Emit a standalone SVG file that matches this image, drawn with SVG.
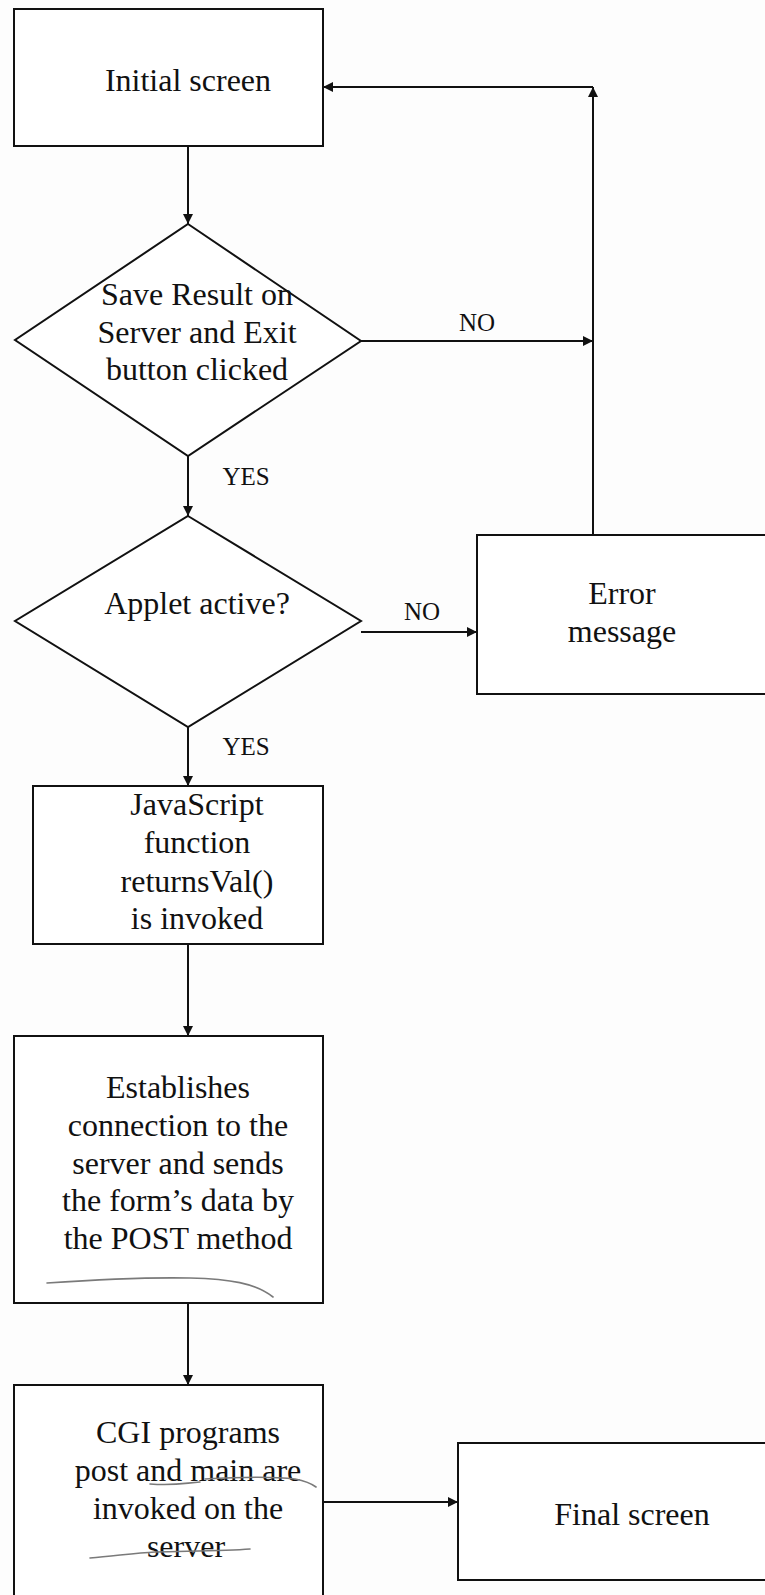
<svg xmlns="http://www.w3.org/2000/svg" width="765" height="1595" viewBox="0 0 765 1595">
  <style>
    .shape { fill: #ffffff; stroke: #111111; stroke-width: 2; }
    .conn { fill: none; stroke: #111111; stroke-width: 2; }
    .pencil { fill: none; stroke: #7a7a7a; stroke-width: 1.6; stroke-linecap: round; }
    .t { font-family: "Liberation Serif", "Times New Roman", serif; font-size: 32px; fill: #111111; text-anchor: middle; }
    .lbl { font-family: "Liberation Serif", "Times New Roman", serif; font-size: 25px; fill: #111111; text-anchor: middle; }
  </style>
  <defs>
    <marker id="arr" viewBox="0 0 10 10" refX="10" refY="5" markerWidth="11" markerHeight="10" markerUnits="userSpaceOnUse" orient="auto">
      <path d="M0,0 L10,5 L0,10 z" fill="#111111"/>
    </marker>
  </defs>
  <rect x="0" y="0" width="765" height="1595" fill="#fdfdfd"/>

  <g id="connectors">
    <line class="conn" x1="188" y1="146" x2="188" y2="224" marker-end="url(#arr)"/>
    <line class="conn" x1="361" y1="341" x2="593" y2="341" marker-end="url(#arr)"/>
    <line class="conn" x1="593" y1="535" x2="593" y2="87" marker-end="url(#arr)"/>
    <line class="conn" x1="593" y1="87" x2="323" y2="87" marker-end="url(#arr)"/>
    <line class="conn" x1="188" y1="456" x2="188" y2="516" marker-end="url(#arr)"/>
    <line class="conn" x1="361" y1="632" x2="477" y2="632" marker-end="url(#arr)"/>
    <line class="conn" x1="188" y1="727" x2="188" y2="786" marker-end="url(#arr)"/>
    <line class="conn" x1="188" y1="944" x2="188" y2="1036" marker-end="url(#arr)"/>
    <line class="conn" x1="188" y1="1303" x2="188" y2="1385" marker-end="url(#arr)"/>
    <line class="conn" x1="323" y1="1502" x2="458" y2="1502" marker-end="url(#arr)"/>
    <text class="lbl" x="477" y="331">NO</text>
    <text class="lbl" x="246" y="485">YES</text>
    <text class="lbl" x="422" y="620">NO</text>
    <text class="lbl" x="246" y="755">YES</text>
  </g>

  <g id="initial-screen">
    <rect class="shape" x="14" y="9" width="309" height="137"/>
    <text class="t" x="188" y="91">Initial screen</text>
  </g>

  <g id="save-decision">
    <polygon class="shape" points="188,224 361,341 188,456 15,340"/>
    <text class="t" x="197" y="305">Save Result on</text>
    <text class="t" x="197" y="343">Server and Exit</text>
    <text class="t" x="197" y="380">button clicked</text>
  </g>

  <g id="applet-decision">
    <polygon class="shape" points="188,516 361,621 188,727 15,621"/>
    <text class="t" x="197" y="614">Applet active?</text>
  </g>

  <g id="error-message">
    <rect class="shape" x="477" y="535" width="300" height="159"/>
    <text class="t" x="622" y="604">Error</text>
    <text class="t" x="622" y="642">message</text>
  </g>

  <g id="javascript-function">
    <rect class="shape" x="33" y="786" width="290" height="158"/>
    <text class="t" x="197" y="815">JavaScript</text>
    <text class="t" x="197" y="853">function</text>
    <text class="t" x="197" y="892">returnsVal()</text>
    <text class="t" x="197" y="929">is invoked</text>
  </g>

  <g id="establish-connection">
    <rect class="shape" x="14" y="1036" width="309" height="267"/>
    <text class="t" x="178" y="1098">Establishes</text>
    <text class="t" x="178" y="1136">connection to the</text>
    <text class="t" x="178" y="1174">server and sends</text>
    <text class="t" x="178" y="1211">the form’s data by</text>
    <text class="t" x="178" y="1249">the POST method</text>
    <path class="pencil" d="M47,1283 C90,1280 140,1277 190,1278 C230,1279 255,1283 273,1297"/>
  </g>

  <g id="cgi-programs">
    <rect class="shape" x="14" y="1385" width="309" height="230"/>
    <text class="t" x="188" y="1443">CGI programs</text>
    <text class="t" x="188" y="1481">post and main are</text>
    <text class="t" x="188" y="1519">invoked on the</text>
    <text class="t" x="186" y="1557">server</text>
    <path class="pencil" d="M150,1484 C175,1486 185,1483 200,1482 M205,1479 C240,1477 270,1476 295,1479 C305,1481 312,1484 316,1487"/>
    <path class="pencil" d="M90,1558 C115,1556 135,1553 155,1552 C190,1551 225,1551 250,1549"/>
  </g>

  <g id="final-screen">
    <rect class="shape" x="458" y="1443" width="320" height="137"/>
    <text class="t" x="632" y="1525">Final screen</text>
  </g>
</svg>
